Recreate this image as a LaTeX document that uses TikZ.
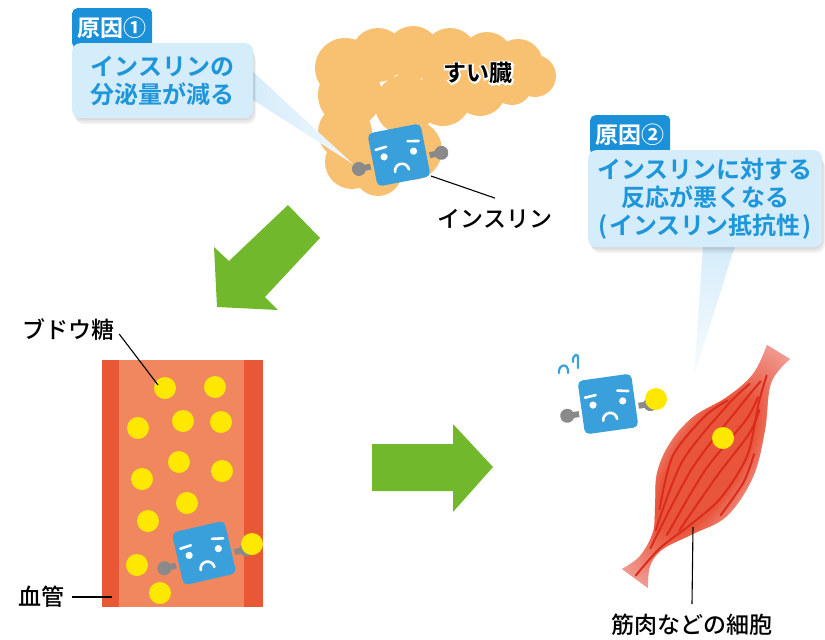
\documentclass[tikz,border=0pt]{standalone}
\usepackage{fontspec}
\setmainfont{Noto Sans CJK JP}[BoldFont={Noto Sans CJK JP Bold}]
\newfontfamily\labelfont{Noto Sans CJK JP Medium}
\newfontfamily\halofont{Noto Sans CJK JP Bold}[FakeBold=14]

\definecolor{tagblue}{HTML}{1A90D8}
\definecolor{calloutblue}{HTML}{D5ECFA}
\definecolor{calloutink}{HTML}{1E96DA}
\definecolor{pancreas}{HTML}{F8C172}
\definecolor{insulinblue}{HTML}{3AA0DB}
\definecolor{armgrey}{HTML}{8A8A8A}
\definecolor{arrowgreen}{HTML}{72B82C}
\definecolor{vesselwall}{HTML}{E95834}
\definecolor{vesselin}{HTML}{F0875F}
\definecolor{sugar}{HTML}{FFE800}
\definecolor{musclepink}{HTML}{F2ABA7}
\definecolor{musclered}{HTML}{E8553A}
\definecolor{fibre}{HTML}{DC2A1C}

\pgfdeclareradialshading{musclefade}{\pgfpoint{0bp}{0bp}}{color(0bp)=(musclered); color(13bp)=(musclered);
  color(25bp)=(musclepink); color(50bp)=(musclepink)}

\tikzstyle{tag} = [fill=tagblue, text=white, font=\bfseries\fontsize{23}{23}\selectfont,
  rounded corners=5pt, inner sep=0pt, minimum width=80pt, minimum height=40pt, anchor=north west]
\tikzstyle{callout} = [fill=calloutblue, text=calloutink, font=\bfseries\fontsize{24}{28}\selectfont,
  rounded corners=8pt, inner sep=0pt, anchor=north west]
\tikzstyle{softshadow} = [black, opacity=0.05, rounded corners=9pt]
\tikzstyle{caption} = [font=\labelfont\fontsize{23}{23}\selectfont, inner sep=0pt]
\tikzstyle{leader} = [black, line width=1.1pt]
\tikzstyle{arm} = [armgrey, line width=6pt]
\tikzstyle{face} = [white, line width=2.6pt, line cap=round]
\tikzstyle{fibreline} = [fibre, line width=2pt, line cap=round]
\tikzstyle{sweat} = [insulinblue, line width=2.2pt, line cap=round]

% the little insulin character
\tikzset{
  insulin/.pic={
    \draw[arm] (-30,6) -- (-42,6);
    \draw[arm] (30,6) -- (42,6);
    \fill[armgrey] (-42,6) circle[radius=7];
    \fill[armgrey] (42,6) circle[radius=7];
    \fill[insulinblue, rounded corners=5pt] (-27,-27) rectangle (27,27);
    \fill[white] (-15,-1) circle[radius=3.6] (15,-1) circle[radius=3.6];
    \draw[face] (-22,-9.5) -- (-11,-10.5) (11,-12) -- (22,-10);
    \draw[face] (-7,16) arc[start angle=180, end angle=360, radius=7];
  }
}

\begin{document}
\begin{tikzpicture}[x=1pt, y=-1pt]
  \useasboundingbox (0,0) rectangle (825,640);

  % pancreas
  \fill[pancreas] (345,68) circle[radius=30] (378,55) circle[radius=27] (413,53) circle[radius=27]
    (450,55) circle[radius=27] (487,58) circle[radius=26] (518,64) circle[radius=25]
    (535,76) circle[radius=21] (512,85) circle[radius=20] (480,90) circle[radius=26]
    (443,98) circle[radius=28] (405,105) circle[radius=30] (350,95) circle[radius=32]
    (345,132) circle[radius=27] (352,162) circle[radius=27] (378,172) circle[radius=24]
    (412,150) circle[radius=30];
  \node[text=white, font=\halofont\fontsize{23}{23}\selectfont, inner sep=0pt] (pancreashalo) at (478,73) {すい臓};
  \node[font=\bfseries\fontsize{23}{23}\selectfont, inner sep=0pt] (pancreasname) at (478,73) {すい臓};

  % cause 1
  \shade[left color=calloutblue, right color=calloutblue!35] (250,69) -- (353,164) -- (250,98) -- cycle;
  \foreach \d in {2,4,6}
    \fill[softshadow] (72+\d/2,45+\d) rectangle (253+\d/2,118+\d);
  \node[tag] (cause1) at (72,8) {原因①};
  \node[callout, minimum width=181pt, minimum height=75pt, align=left] (box1) at (72,43)
    {インスリンの\\分泌量が減る};

  \pic[rotate=11] at (399,155) {insulin};
  \coordinate (insA) at (431,176);
  \node[caption] (insname) at (495,219) {インスリン};
  \draw[leader] (insA) -- ([yshift=11pt]insname.north);

  % green arrows
  \fill[arrowgreen] (288,205) -- (320,238) -- (265,297) -- (278,310) -- (217,307)
    -- (214,247) -- (229,261) -- cycle;
  \fill[arrowgreen] (372,444) -- (453,444) -- (453,424) -- (493,467) -- (453,512)
    -- (453,491) -- (372,491) -- cycle;

  % blood vessel
  \fill[vesselwall] (102,360) rectangle (263,607);
  \fill[vesselin] (119,360) rectangle (244,607);
  \foreach \px/\py in {165/388, 215/387, 138/428, 183/421, 221/422, 179/462, 142/479,
      222/471, 187/503, 148/521, 137/565, 160/593}
    \fill[sugar] (\px,\py) circle[radius=11];
  \pic[rotate=13] at (204,553) {insulin};
  \fill[sugar] (252,544) circle[radius=11];

  \node[caption] (sugarname) at (68,330) {ブドウ糖};
  \coordinate (sugarA) at (158,385);
  \draw[leader] ([xshift=5pt, yshift=-4pt]sugarname.east) -- (sugarA);
  \node[caption] (vesselname) at (42,597) {血管};
  \coordinate (wallA) at (112,597);
  \draw[leader] ([xshift=7pt]vesselname.east) -- (wallA);

  % cause 2
  \shade[top color=calloutblue, bottom color=calloutblue!15] (703,246) -- (735,246) -- (694,376) -- cycle;
  \foreach \d in {2,4,6}
    \fill[softshadow] (588+\d/2,152+\d) rectangle (822+\d/2,247+\d);
  \node[tag] (cause2) at (590,115) {原因②};
  \node[callout, minimum width=234pt, minimum height=97pt, align=center] (box2) at (588,150)
    {インスリンに対する\\反応が悪くなる\\(\hspace{2pt}インスリン抵抗性\hspace{2pt})};

  % muscle
  \begin{scope}
    \clip (767,345) -- (790,359)
      -- plot[smooth, tension=0.6] coordinates {(790,359) (771,383) (765,430) (753,477) (727,516)
         (693,534) (663,549) (650,566) (648,588)}
      -- (622,569)
      -- plot[smooth, tension=0.6] coordinates {(622,569) (640,556) (653,532) (655,507) (657,473)
         (670,443) (693,417) (727,397) (753,374) (767,345)}
      -- cycle;
    \fill[musclepink] (600,330) rectangle (800,600);
    \shade[shading=musclefade, transform canvas={shift={(706,465)}, rotate=58}]
      (0,0) ellipse[x radius=150, y radius=62];
  \end{scope}
  \begin{scope}[shift={(706,465)}, rotate=58]
    \draw[fibreline] plot[smooth] coordinates {(-131,-1) (-95,5) (-60,18) (-20,30) (30,30) (80,12) (108,4)};
    \draw[fibreline] plot[smooth] coordinates {(-62,-16) (-10,-33) (40,-27) (66,-16)};
    \draw[fibreline] plot[smooth] coordinates {(-82,-8) (-10,-22) (60,-14) (92,-6)};
    \draw[fibreline] plot[smooth] coordinates {(-100,-3) (-10,-10) (70,-2) (100,2)};
    \draw[fibreline] plot[smooth] coordinates {(-80,4) (-5,2) (60,10) (85,8)};
    \draw[fibreline] plot[smooth] coordinates {(-70,12) (-5,15) (50,20) (75,16)};
    \draw[fibreline] plot[smooth] coordinates {(-35,39) (5,41) (35,35)};
  \end{scope}
  \fill[sugar] (723,438) circle[radius=11];

  \pic[rotate=8] at (608,404) {insulin};
  \fill[sugar] (656,399) circle[radius=11];
  \draw[sweat] (559,373) .. controls (558,364) and (569,362) .. (568,373);
  \draw[sweat] (573,362) .. controls (572,354) and (579,353) .. (578,358) -- (578,368);

  \node[caption] (cellname) at (692,625) {筋肉などの細胞};
  \coordinate (muscleA) at (693,527);
  \draw[leader] (muscleA) -- ([yshift=10pt]cellname.north);
\end{tikzpicture}
\end{document}
